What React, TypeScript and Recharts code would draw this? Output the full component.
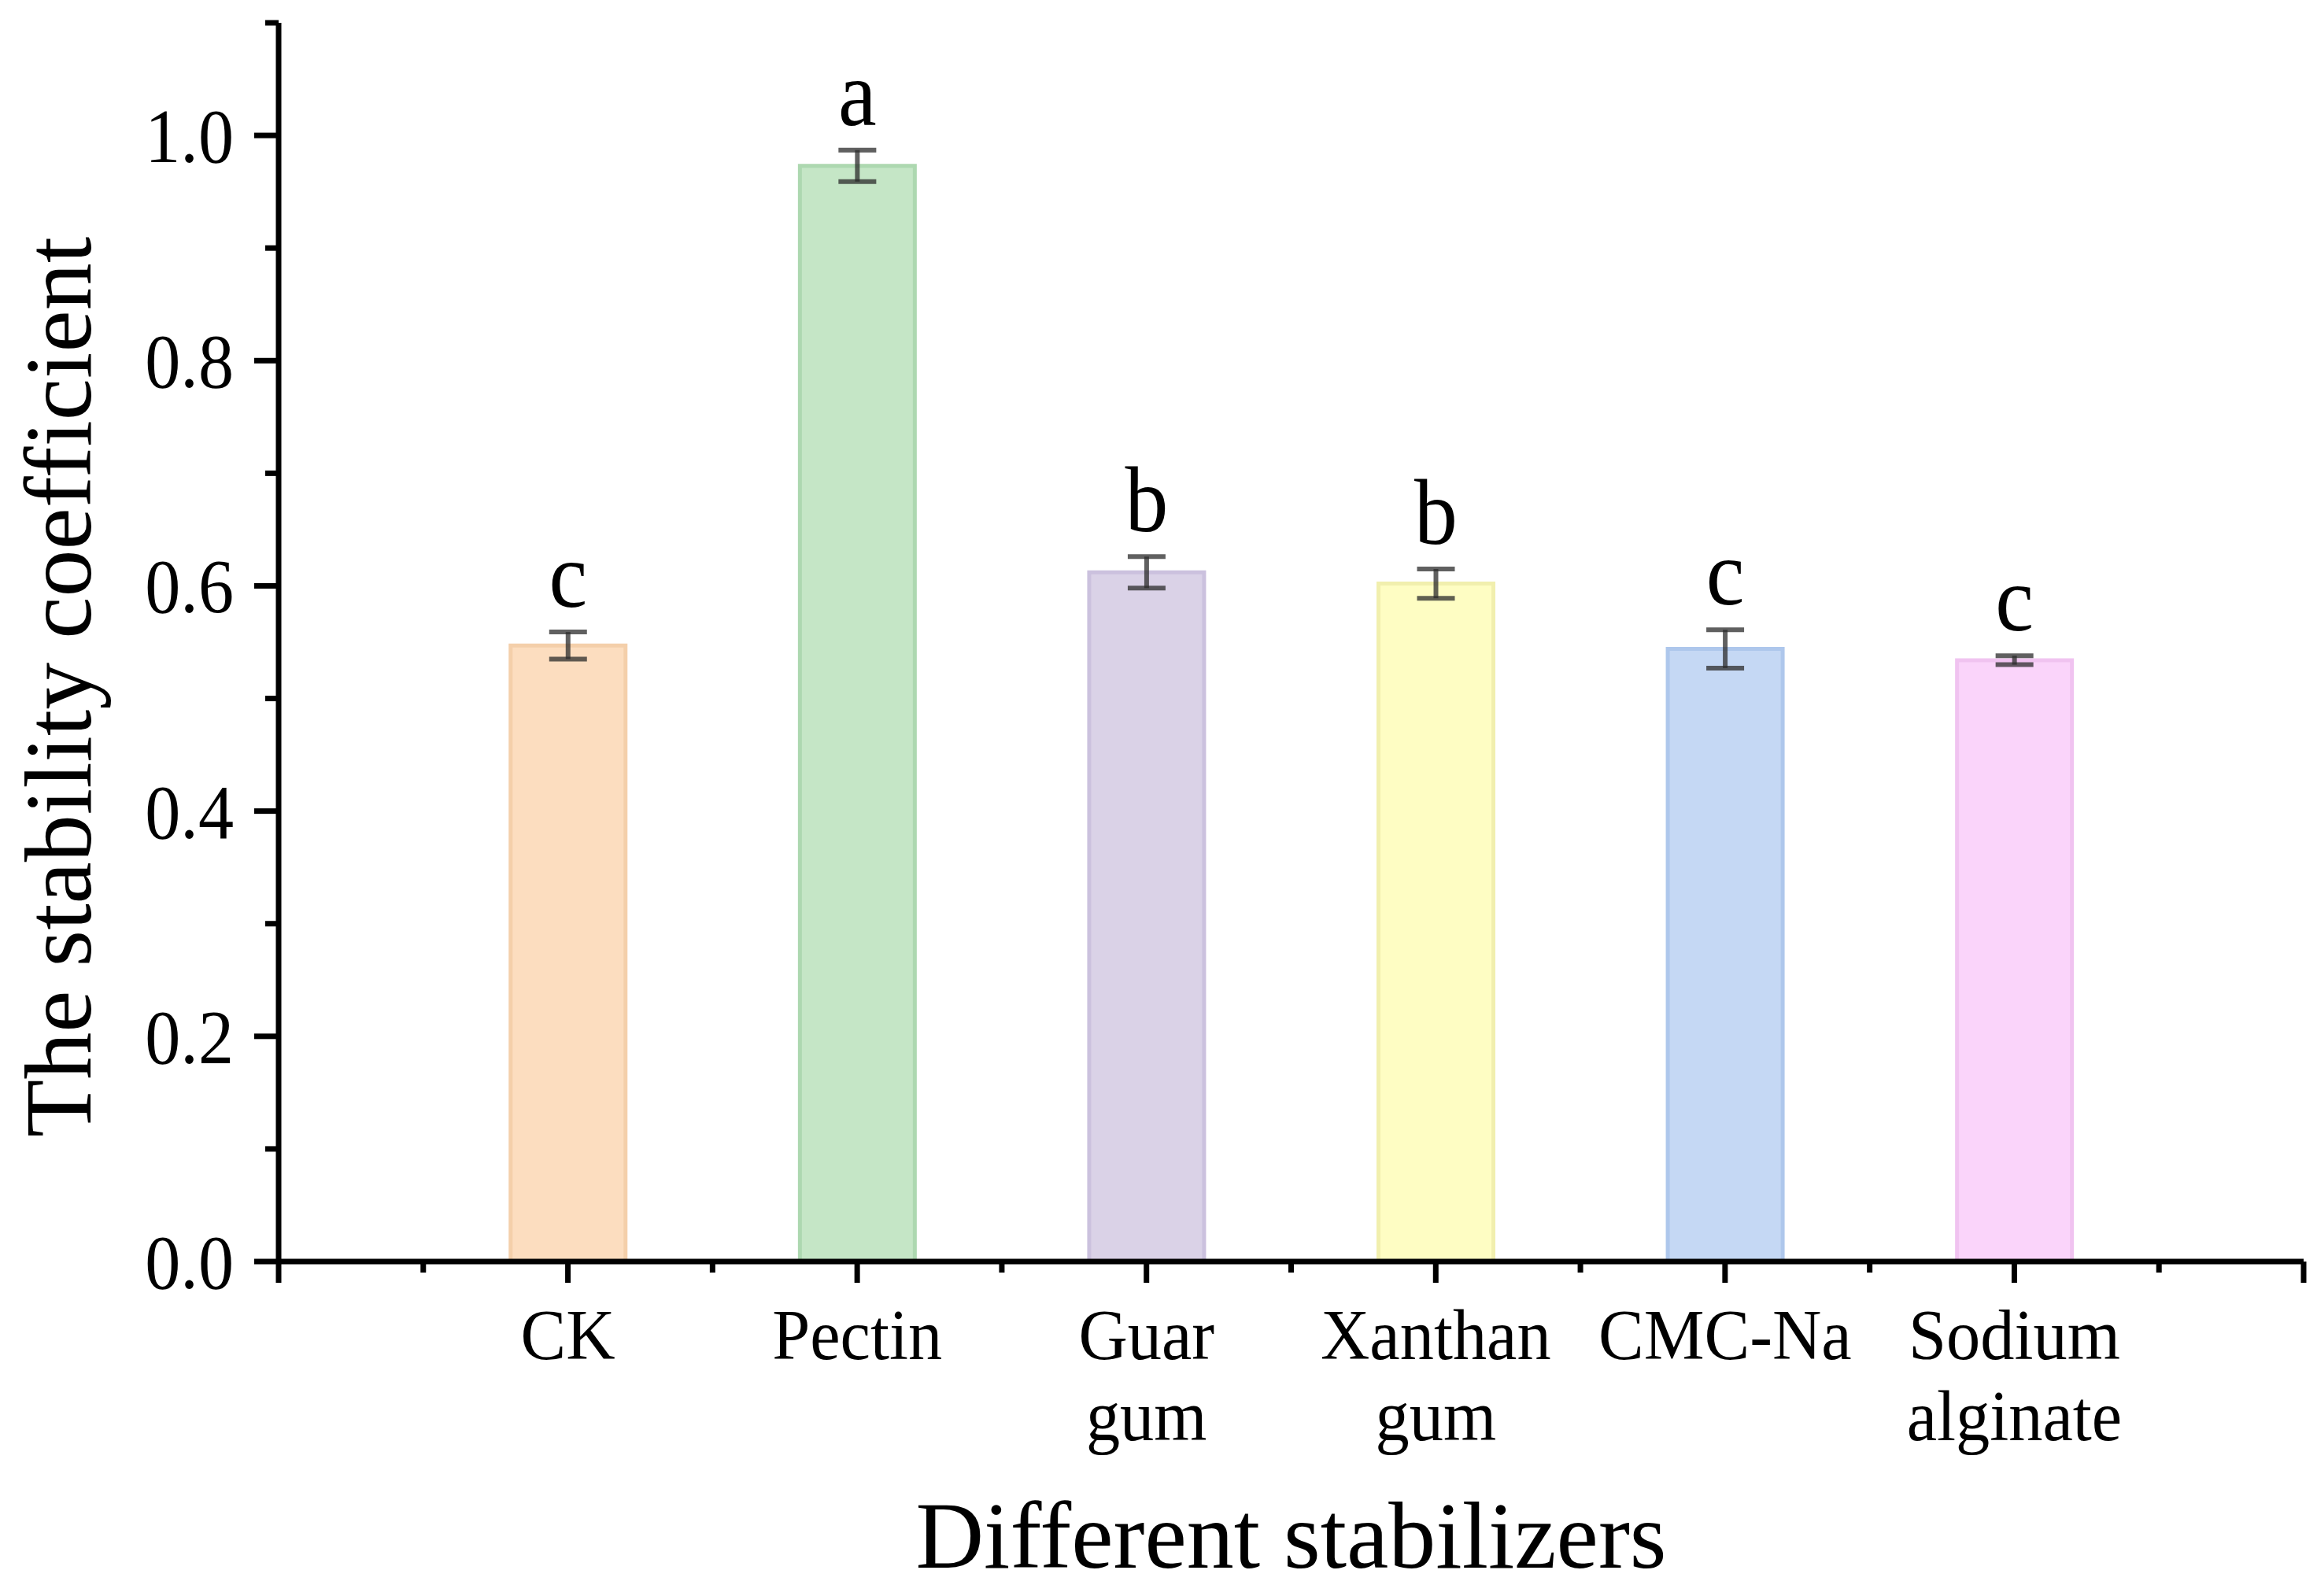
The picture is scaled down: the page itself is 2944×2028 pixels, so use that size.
import React from 'react';
import { Bar, BarChart, Cell, ErrorBar, Label, LabelList, XAxis, YAxis } from 'recharts';

const categories = ['CK', 'Pectin', 'Guar\ngum', 'Xanthan\ngum', 'CMC-Na', 'Sodium\nalginate'];
const stabilityValues = [0.547, 0.973, 0.612, 0.602, 0.544, 0.534];
const stabilityErrors = [0.012, 0.014, 0.014, 0.013, 0.017, 0.004];
const significanceLetters = ['c', 'a', 'b', 'b', 'c', 'c'];
const barFills = ['#FCDDBF', '#C5E6C6', '#DAD2E7', '#FEFDC3', '#C5D8F4', '#FAD4FA'];
const barStrokes = ['#F4CFAA', '#ADD8B0', '#CBC1DE', '#F1EFAE', '#AEC7EC', '#F0C3F0'];
const xTicks = [0, 0.5, 1, 1.5, 2, 2.5, 3, 3.5, 4, 4.5, 5, 5.5, 6, 6.5, 7];
const yTicks = [0, 0.1, 0.2, 0.3, 0.4, 0.5, 0.6, 0.7, 0.8, 0.9, 1.0, 1.1];

const data = categories.map((name, i) => ({
  pos: i + 1,
  name,
  value: stabilityValues[i],
  err: stabilityErrors[i],
  letter: significanceLetters[i],
}));

const FONT = "'Liberation Serif', 'Times New Roman', serif";

function XTick({ x, y, payload }: any) {
  const v = payload.value;
  const major = Number.isInteger(v);
  const label = major && v >= 1 && v <= categories.length ? categories[v - 1] : null;
  return (
    <g>
      <line x1={x} x2={x} y1={y} y2={y + (major ? 27 : 14)} stroke="#000" strokeWidth={7} />
      {label &&
        label.split('\n').map((line: string, i: number) => (
          <text
            key={i}
            transform={`translate(${x} ${y + 124 + i * 103}) scale(0.96 1)`}
            textAnchor="middle"
            fontSize={90}
            fontFamily={FONT}
            fill="#000"
          >
            {line}
          </text>
        ))}
    </g>
  );
}

function YTick({ x, y, payload }: any) {
  const v = payload.value;
  const major = Math.round(v * 10) % 2 === 0;
  return (
    <g>
      <line x1={x - (major ? 31 : 17)} x2={x} y1={y} y2={y} stroke="#000" strokeWidth={7} />
      {major && (
        <text
          transform={`translate(${x - 57} ${y + 34}) scale(0.93 1)`}
          textAnchor="end"
          fontSize={97}
          fontFamily={FONT}
          fill="#000"
        >
          {v.toFixed(1)}
        </text>
      )}
    </g>
  );
}

function LetterLabel(props: any) {
  const vb = props.viewBox ?? props;
  const { x, y, width, height } = vb;
  const idx = props.index ?? 0;
  const pxPerUnit = height / stabilityValues[idx];
  const errTop = y - stabilityErrors[idx] * pxPerUnit;
  return (
    <text
      transform={`translate(${x + width / 2} ${errTop - 32}) scale(0.93 1)`}
      textAnchor="middle"
      fontSize={118}
      fontFamily={FONT}
      fill="#000"
    >
      {props.value}
    </text>
  );
}

export default function App() {
  return (
    <div style={{ position: 'absolute', left: 0, top: 0, background: '#fff' }}>
      <BarChart width={2944} height={2028} data={data} margin={{ top: 29, right: 17, left: 54, bottom: 125 }}>
        <XAxis
          dataKey="pos"
          type="number"
          domain={[0, 7]}
          ticks={xTicks}
          interval={0}
          height={300}
          tickSize={0}
          tickMargin={0}
          tickLine={false}
          axisLine={{ stroke: '#000', strokeWidth: 7 }}
          tick={<XTick />}
        >
          <Label
            content={({ viewBox }: any) => (
              <text
                x={viewBox.x + viewBox.width / 2}
                y={viewBox.y + 389}
                textAnchor="middle"
                fontSize={120}
                fontFamily={FONT}
                fill="#000"
              >
                Different stabilizers
              </text>
            )}
          />
        </XAxis>
        <YAxis
          type="number"
          domain={[0, 1.1]}
          ticks={yTicks}
          interval={0}
          width={300}
          tickSize={0}
          tickMargin={0}
          tickLine={false}
          axisLine={{ stroke: '#000', strokeWidth: 7 }}
          tick={<YTick />}
        >
          <Label
            content={({ viewBox }: any) => (
              <text
                transform={`translate(${viewBox.x + 61} ${viewBox.y + viewBox.height / 2 + 57}) rotate(-90)`}
                textAnchor="middle"
                fontSize={120}
                fontFamily={FONT}
                fill="#000"
              >
                The stability coefficient
              </text>
            )}
          />
        </YAxis>
        <Bar dataKey="value" barSize={146} strokeWidth={5} isAnimationActive={false}>
          {data.map((d, i) => (
            <Cell key={d.name} fill={barFills[i]} stroke={barStrokes[i]} />
          ))}
          <ErrorBar dataKey="err" width={24} direction="y" stroke="#2b2b2b" strokeOpacity={0.75} strokeWidth={6} />
          <LabelList dataKey="letter" content={LetterLabel} />
        </Bar>
      </BarChart>
    </div>
  );
}
